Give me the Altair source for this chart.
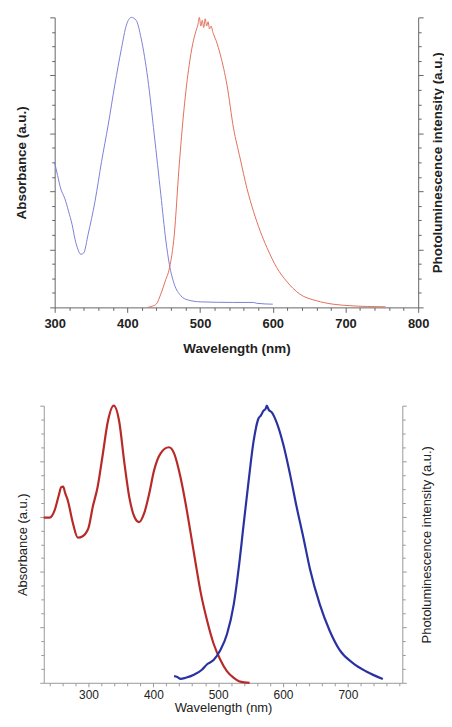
import altair as alt
import pandas as pd

# ---------------- Top panel data ----------------
top_abs_nm = [300, 304, 308, 314, 319, 324, 328, 332, 336, 340, 346, 355.5, 364.5, 373.6, 382.7,
              391.8, 398.6, 405.5, 412, 419, 428, 437, 446, 453, 457.7, 464.5, 473.6, 482.7,
              501, 546, 573.6, 578, 600]
top_abs_val = [49.8, 45.5, 41.2, 37.5, 33.2, 28.5, 23.5, 20.0, 18.3, 18.8, 25.2, 36.6, 50.3, 62.9, 76.7,
               89.2, 97.3, 100, 99, 92.7, 79, 59.5, 38.9, 22.9, 14.9, 8.0, 4.0, 2.6,
               1.9, 1.7, 1.7, 1.4, 1.1]

top_pl_nm = [428, 435, 440, 446, 452, 458, 464.5, 471, 478, 485, 490, 494, 497, 499, 501, 503, 505,
             507, 509, 511, 513, 515, 518, 522, 528, 537, 546, 555, 564.5, 573.6, 582.7, 592,
             605.5, 619, 637, 660, 683, 705, 730, 755]
top_pl_val = [0, 0.5, 1.2, 4.6, 9, 13.7, 25, 48, 68.6, 83.5, 91, 95, 97.5, 100, 97, 99, 96.5,
              99.5, 97, 98.5, 96, 97, 94.5, 92, 87, 76.7, 61.8, 51.5, 41, 33, 26.3, 20.6,
              13.7, 9, 4.6, 2.3, 1.1, 0.6, 0.3, 0.2]

# ---------------- Bottom panel data ----------------
bot_abs_nm = [231, 240, 248, 254, 258, 261, 264, 268, 276, 283.6, 291, 300, 306.6, 314, 322,
              329.7, 338.9, 347.5, 355, 362.9, 370.6, 378, 385.9, 393.6, 401, 411.5, 424,
              431.9, 442, 449.8, 457.5, 465, 472.8, 483, 493, 503.5, 513.7, 524, 534, 548.5]
bot_abs_val = [59.6, 59.6, 62.4, 67.5, 70.6, 70.8, 68.5, 65.9, 57.6, 52.4, 52.9, 55.9, 63.5, 70.6, 82.4,
               94.1, 100, 94.1, 80, 67, 60, 58, 61.2, 68.2, 76.5, 82.9, 85,
               82.9, 74.1, 64.7, 54.1, 43.5, 32.9, 22.4, 14.1, 8.2, 4.1, 1.8, 0.4, 0.0]

bot_pl_nm = [432, 437, 442, 449.8, 462.6, 475, 483, 493, 503.5, 513.7, 524, 531.6, 539, 547,
             554.6, 562, 566, 570, 573, 575, 578, 582.7, 590, 600.6, 610.8, 621, 631, 641.5,
             656.9, 672, 687.5, 707.9, 728.4, 754]
bot_pl_val = [2.4, 2.1, 1.4, 1.8, 2.9, 4.7, 6.7, 8.2, 11.8, 17.6, 28.2, 41.2, 56.5, 72.9,
              87.1, 95.3, 96.5, 98.2, 98.8, 100, 98.5, 97.6, 94.1, 85.9, 75.3, 63.5, 52.9, 41.2,
              28.2, 18.8, 11.8, 7.1, 4.1, 1.4]

top_x_ticks = list(range(300, 801, 20))
bot_x_ticks = list(range(240, 781, 20))
y_ticks = list(range(0, 101, 5))

FONT = "Liberation Sans"


def panel(abs_nm, abs_val, pl_nm, pl_val, xdom, xrange, xticks, abs_color, pl_color, sw, fw,
          w, h, axis_color, label_size, title_size, lpad, xtpad, ltpad, rtpad,
          tick_major, tick_minor, left_offset):
    df_abs = pd.DataFrame({"nm": abs_nm, "v": abs_val})
    df_pl = pd.DataFrame({"nm": pl_nm, "v": pl_val})

    xaxis = alt.Axis(
        values=xticks,
        labelExpr="datum.value % 100 === 0 ? datum.label : ''",
        labelOverlap=False, labelFlush=False,
        labelFont=FONT, labelFontSize=label_size, labelFontWeight=fw, labelColor="#222",
        labelPadding=lpad,
        tickSize={"condition": {"test": "datum.value % 100 === 0", "value": tick_major}, "value": tick_minor},
        tickColor=axis_color, domainColor=axis_color, grid=False,
        title="Wavelength (nm)", titleFont=FONT, titleFontSize=title_size, titleFontWeight=fw,
        titleColor="#222", titlePadding=xtpad,
    )
    ycommon = dict(
        values=y_ticks, labels=False, grid=False, minExtent=0,
        tickSize={"condition": {"test": "datum.value % 20 === 0", "value": tick_major}, "value": tick_minor},
        tickColor=axis_color, domainColor=axis_color,
        titleFont=FONT, titleFontSize=title_size, titleFontWeight=fw, titleColor="#222",
    )
    yleft = alt.Axis(orient="left", title="Absorbance (a.u.)", titlePadding=ltpad,
                     offset=left_offset, **ycommon)
    yright = alt.Axis(orient="right", title="Photoluminescence intensity (a.u.)",
                      titleAngle=270, titleBaseline="top", titlePadding=rtpad, **ycommon)

    xs = alt.Scale(domain=xdom, range=xrange, nice=False, zero=False)
    ys = alt.Scale(domain=[0, 100], nice=False)

    l1 = alt.Chart(df_abs).mark_line(color=abs_color, strokeWidth=sw, interpolate="monotone").encode(
        x=alt.X("nm:Q", scale=xs, axis=xaxis),
        y=alt.Y("v:Q", scale=ys, axis=yleft),
    )
    l2 = alt.Chart(df_pl).mark_line(color=pl_color, strokeWidth=sw, interpolate="monotone").encode(
        x=alt.X("nm:Q", scale=xs, axis=xaxis),
        y=alt.Y("v:Q", scale=ys, axis=yright),
    )
    return alt.layer(l1, l2).resolve_scale(y="independent").properties(width=w, height=h)


top = panel(top_abs_nm, top_abs_val, top_pl_nm, top_pl_val, [300, 800], [0, 366], top_x_ticks,
            "#7d80d8", "#e2705c", 1.0, "bold", 366, 292, "#666666", 13, 13.5,
            5, 11, 21, 7, 5, 3, 0)
# bottom plot starts 11 px left of the top one: widen the scale range leftwards
bottom = panel(bot_abs_nm, bot_abs_val, bot_pl_nm, bot_pl_val, [231, 784], [-11, 350], bot_x_ticks,
               "#b82a28", "#2a32a2", 2.2, "normal", 350, 279, "#999999", 12, 13,
               3, 1, 10, 14, 4, 3, 11)

chart = alt.vconcat(top, bottom, spacing=46).properties(
    padding={"left": 6, "top": 5, "right": 0, "bottom": 0}
).configure_view(stroke=None)

chart.save("out.html", embed_options={"renderer": "svg", "actions": False})
